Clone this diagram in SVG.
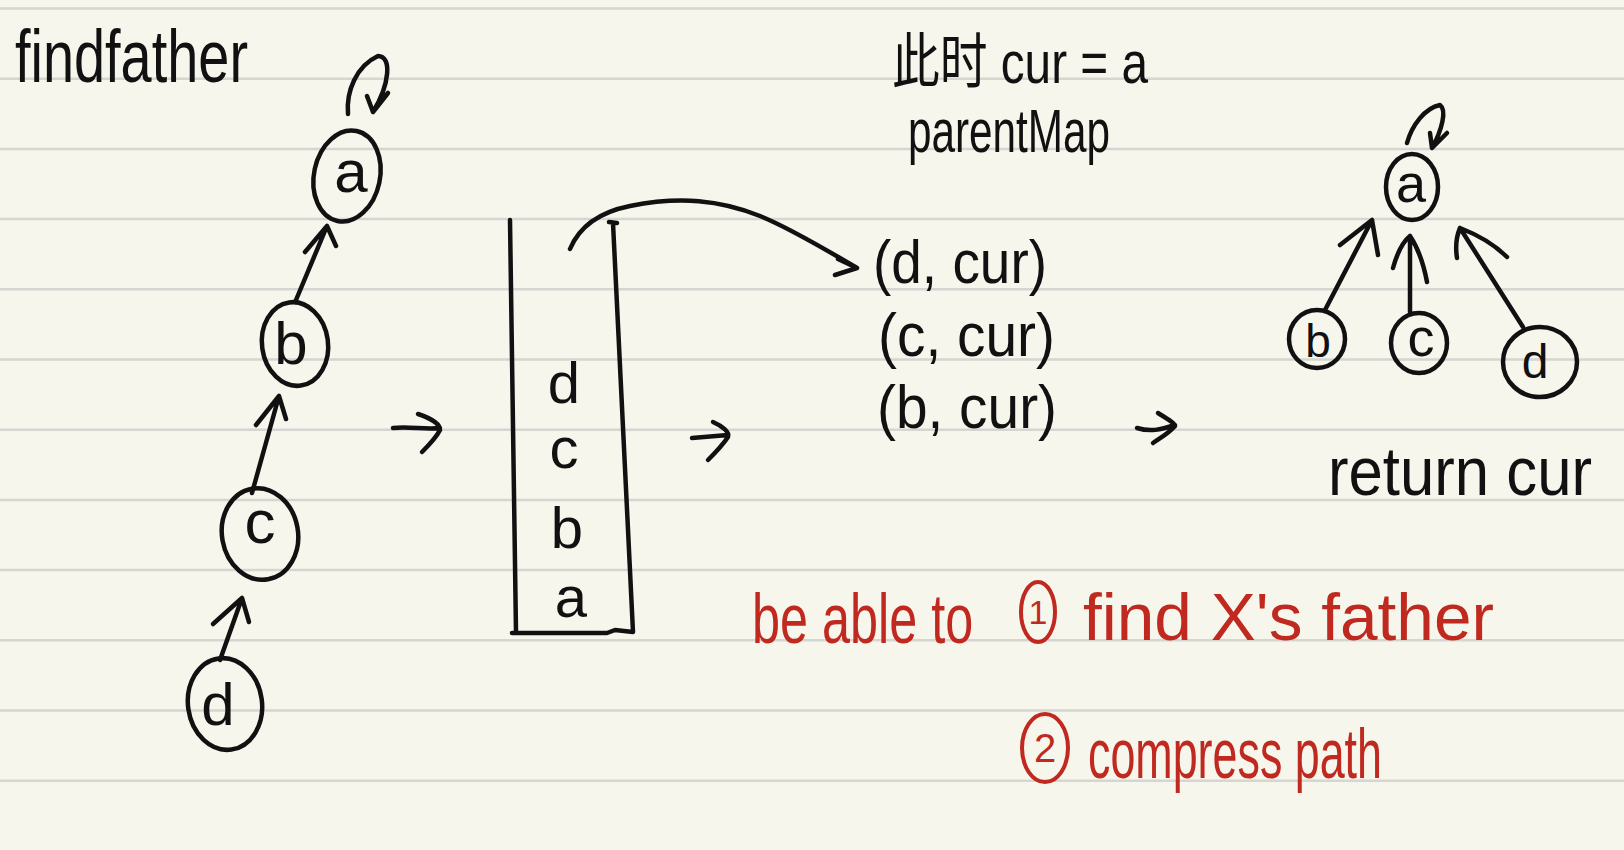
<svg xmlns="http://www.w3.org/2000/svg" width="1624" height="850" viewBox="0 0 1624 850">
<style>
.ink{fill:none;stroke:#111;stroke-width:4.5;stroke-linecap:round;stroke-linejoin:round}
.redink{fill:none;stroke:#c0291f;stroke-width:4;stroke-linecap:round}
.rule{stroke:#d5d5d2;stroke-width:2.5}
.t{font-family:"Liberation Sans","Noto Sans CJK SC",sans-serif;fill:#111}
.r{font-family:"Liberation Sans",sans-serif;fill:#c0291f}
.m{text-anchor:middle}
</style>
<rect width="1624" height="850" fill="#f7f6ec"/>
<g id="rules">
<line class="rule" x1="0" y1="8.5" x2="1624" y2="8.5"/>
<line class="rule" x1="0" y1="78.7" x2="1624" y2="78.7"/>
<line class="rule" x1="0" y1="148.9" x2="1624" y2="148.9"/>
<line class="rule" x1="0" y1="219.1" x2="1624" y2="219.1"/>
<line class="rule" x1="0" y1="289.3" x2="1624" y2="289.3"/>
<line class="rule" x1="0" y1="359.5" x2="1624" y2="359.5"/>
<line class="rule" x1="0" y1="429.7" x2="1624" y2="429.7"/>
<line class="rule" x1="0" y1="499.9" x2="1624" y2="499.9"/>
<line class="rule" x1="0" y1="570.1" x2="1624" y2="570.1"/>
<line class="rule" x1="0" y1="640.3" x2="1624" y2="640.3"/>
<line class="rule" x1="0" y1="710.5" x2="1624" y2="710.5"/>
<line class="rule" x1="0" y1="780.7" x2="1624" y2="780.7"/>
</g>
<g id="title"><text class="t" x="15" y="82" font-size="74" textLength="233" lengthAdjust="spacingAndGlyphs">findfather</text></g>

<g id="chain-a"><ellipse class="ink" cx="347" cy="176" rx="33" ry="46" transform="rotate(12 347 176)"/><text class="t m" x="351" y="192" font-size="60">a</text></g>
<g id="chain-b"><ellipse class="ink" cx="295" cy="344" rx="33" ry="42" transform="rotate(-8 295 344)"/><text class="t m" x="291" y="364" font-size="60">b</text></g>
<g id="chain-c"><ellipse class="ink" cx="260" cy="534" rx="38" ry="46" transform="rotate(-10 260 534)"/><text class="t m" x="260" y="543" font-size="62">c</text></g>
<g id="chain-d"><ellipse class="ink" cx="225" cy="704" rx="37" ry="46" transform="rotate(-8 225 704)"/><text class="t m" x="218" y="725" font-size="60">d</text></g>

<g id="stack">
<path class="ink" d="M510,220 L516,632 M512,633 L607,633 L615,630 L633,632 M613,223 L633,632 M609,222 L617,223"/>
<text class="t m" x="564" y="403" font-size="58">d</text>
<text class="t m" x="564" y="468" font-size="58">c</text>
<text class="t m" x="567" y="548" font-size="58">b</text>
<text class="t m" x="571" y="617" font-size="58">a</text>
</g>

<g id="note-top">
<text class="t" x="892" y="83" font-size="60" textLength="256" lengthAdjust="spacingAndGlyphs">此时 cur = a</text>
<text class="t" x="908" y="152" font-size="62" textLength="202" lengthAdjust="spacingAndGlyphs">parentMap</text>
</g>

<g id="pairs">
<text class="t" x="873" y="283" font-size="62" textLength="174" lengthAdjust="spacingAndGlyphs">(d, cur)</text>
<text class="t" x="878" y="356" font-size="62" textLength="177" lengthAdjust="spacingAndGlyphs">(c, cur)</text>
<text class="t" x="877" y="428" font-size="62" textLength="180" lengthAdjust="spacingAndGlyphs">(b, cur)</text>
</g>

<g id="tree-a"><ellipse class="ink" cx="1412" cy="187" rx="26" ry="33"/><text class="t m" x="1411" y="202" font-size="54">a</text></g>
<g id="tree-b"><ellipse class="ink" cx="1317" cy="339" rx="28" ry="29"/><text class="t m" x="1318" y="357" font-size="46">b</text></g>
<g id="tree-c"><ellipse class="ink" cx="1419" cy="343" rx="28" ry="30"/><text class="t m" x="1421" y="356" font-size="54">c</text></g>
<g id="tree-d"><ellipse class="ink" cx="1540" cy="362" rx="37" ry="35"/><text class="t m" x="1535" y="378" font-size="48">d</text></g>
<g id="return"><text class="t" x="1328" y="495" font-size="68" textLength="264" lengthAdjust="spacingAndGlyphs">return cur</text></g>

<g id="goals">
<text class="r" transform="translate(752 643) scale(0.72 1)" font-size="70">be able to</text>
<ellipse class="redink" cx="1038" cy="612" rx="17" ry="30"/>
<text class="r m" x="1038" y="624" font-size="34">1</text>
<text class="r" x="1083" y="640" font-size="66" textLength="411" lengthAdjust="spacingAndGlyphs">find X's father</text>
<ellipse class="redink" cx="1045" cy="748" rx="23" ry="34"/>
<text class="r m" x="1045" y="762" font-size="40">2</text>
<text class="r" x="1088" y="778" font-size="70" textLength="294" lengthAdjust="spacingAndGlyphs">compress path</text>
</g>

<g id="connectors">
<path class="ink" d="M348,114 C346,92 356,66 378,56 C392,56 390,84 373,112 M367,96 L373,112 L388,93"/>
<path class="ink" d="M296,300 L327,226 M305,252 L327,226 L336,246"/>
<path class="ink" d="M252,493 L279,396 M256,425 L279,396 L286,419"/>
<path class="ink" d="M220,660 L242,598 M213,624 L242,598 L249,622"/>
<path class="ink" d="M393,428 C410,426 425,430 440,428 M418,414 C430,418 440,424 440,430 C436,438 428,446 422,452"/>
<path class="ink" d="M570,249 C580,225 600,212 630,206 C680,196 720,200 760,216 C790,228 830,252 857,268 M838,259 L857,268 L835,275"/>
<path class="ink" d="M692,438 L728,435 M713,422 C722,426 730,432 728,437 C722,446 714,454 708,460"/>
<path class="ink" d="M1137,428 C1150,432 1160,430 1175,425 M1158,413 C1166,418 1175,423 1175,426 C1168,434 1160,438 1153,443"/>
<path class="ink" d="M1407,143 C1412,125 1425,108 1440,105 C1447,110 1442,130 1432,148 M1430,133 L1432,148 L1447,133"/>
<path class="ink" d="M1325,310 L1372,220 M1340,245 L1372,220 L1378,255"/>
<path class="ink" d="M1410,312 L1410,236 M1393,268 C1398,250 1405,240 1410,236 C1418,248 1424,266 1427,282"/>
<path class="ink" d="M1523,327 L1460,228 M1457,258 C1455,245 1457,235 1460,228 C1478,235 1495,245 1507,257"/>
</g>
</svg>
